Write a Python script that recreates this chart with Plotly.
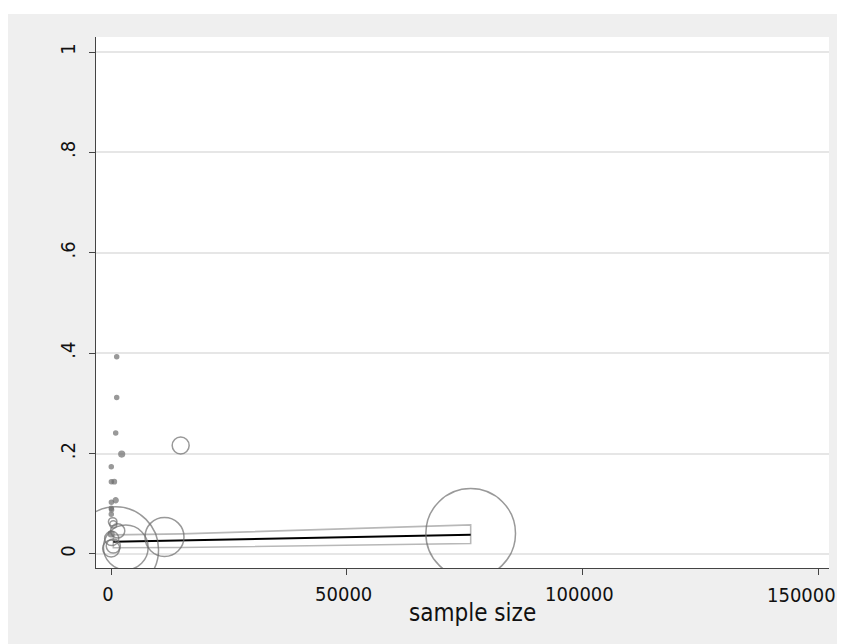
import plotly.graph_objects as go

# ---- data ----
sample_size = [1209, 1209, 997, 2270, 60, 80, 700, 997, 80, 60, 120, 60,
               360, 490, 1420, 40, 150, 30, 490, 997, 3140, 11350, 14780, 76300]
effect = [0.393, 0.312, 0.241, 0.199, 0.174, 0.144, 0.144, 0.107, 0.103, 0.091, 0.088, 0.079,
          0.064, 0.059, 0.046, 0.040, 0.031, 0.011, 0.016, 0.0086, 0.013, 0.034, 0.216, 0.041]
weight = [1, 1, 1, 4, 0.5, 1, 2.25, 2.9, 1, 1, 1, 1.44,
          9, 6.25, 25, 4, 25, 36, 25, 918, 250, 190, 36, 1005]

fit_x = [490, 76300]
fit_y = [0.0245, 0.0385]

ci_x = [490, 15000, 76300]
ci_hi = [0.038, 0.040, 0.058]
ci_lo = [0.0125, 0.013, 0.021]

x_ticks = [0, 50000, 100000, 150000]
x_ticklabels = ["0", "50000", "100000", "150000"]
y_ticks = [0, 0.2, 0.4, 0.6, 0.8, 1]
y_ticklabels = ["0", ".2", ".4", ".6", ".8", "1"]
x_title = "sample size"

FONT = "DejaVu Sans Condensed, DejaVu Sans, sans-serif"
MARK = "#6e6e6e"
TXT = "#111111"

fig = go.Figure()

# CI outline (closed band)
fig.add_trace(go.Scatter(
    x=ci_x + ci_x[::-1] + [ci_x[0]],
    y=ci_hi + ci_lo[::-1] + [ci_hi[0]],
    mode="lines", line=dict(color="#b8b8b8", width=1.6),
    hoverinfo="skip", showlegend=False))

# fitted line
fig.add_trace(go.Scatter(
    x=fit_x, y=fit_y, mode="lines",
    line=dict(color="#000000", width=2), showlegend=False))

# bubbles (very small hollow circles render as solid dots)
fills = [MARK if w < 5 else "rgba(0,0,0,0)" for w in weight]
fig.add_trace(go.Scatter(
    x=sample_size, y=effect, mode="markers",
    marker=dict(size=weight, sizemode="area", sizeref=0.25, sizemin=2,
                color=fills, line=dict(color=MARK, width=1.5)),
    showlegend=False))

# geometry: screen pixels minus the 8px page margin
OFF = 8
W, H = 837, 636
L, R, T, B = 96 - OFF, 829 - OFF, 37 - OFF, 568 - OFF
pw, ph = R - L, B - T

def px(xp):
    return (xp - L) / pw

def py(yp):
    return (B - yp) / ph

ox0, ox1, oy0, oy1 = px(0), px(W), py(H), py(14 - OFF)
path = (f"M {ox0},{oy0} L {ox1},{oy0} L {ox1},{oy1} L {ox0},{oy1} Z "
        f"M 0,0 L 0,1 L 1,1 L 1,0 Z")
fig.add_shape(type="path", path=path, xref="paper", yref="paper",
              fillcolor="#efefef", line=dict(width=0), layer="below")

fig.add_annotation(text=x_title, x=px(472 - OFF), y=py(613 - OFF), xref="paper", yref="paper",
                   showarrow=False, font=dict(family=FONT, size=24, color=TXT),
                   xanchor="center", yanchor="middle")

# last x tick label, nudged left so it stays inside the graph (as the original does)
fig.add_annotation(text=x_ticklabels[-1], x=x_ticks[-1], xref="x",
                   y=py(595 - OFF), yref="paper", xshift=-17,
                   showarrow=False, font=dict(family=FONT, size=20, color=TXT),
                   xanchor="center", yanchor="middle")

fig.update_layout(
    width=W, height=H,
    margin=dict(l=L, r=W - R, t=T, b=H - B, pad=0),
    paper_bgcolor="#ffffff", plot_bgcolor="#ffffff",
    font=dict(family=FONT, size=20, color=TXT),
    xaxis=dict(range=[-3182, 152312], tickvals=x_ticks,
               ticktext=x_ticklabels[:-1] + [""],
               showgrid=False, zeroline=False, showline=True, linecolor="#444444",
               linewidth=1.2, ticks="outside", ticklen=6, tickcolor="#444444",
               tickwidth=1.2, ticklabelstandoff=2, ticklabelshift=-3),
    yaxis=dict(range=[-0.0279, 1.0299], tickvals=y_ticks, ticktext=y_ticklabels,
               showgrid=True, gridcolor="#e6e6e6", gridwidth=1.5,
               zeroline=False, showline=True, linecolor="#444444", linewidth=1.2,
               ticks="outside", ticklen=6, tickcolor="#444444", tickwidth=1.2,
               tickangle=-90, ticklabelstandoff=6),
)

fig.write_html("out.html")
